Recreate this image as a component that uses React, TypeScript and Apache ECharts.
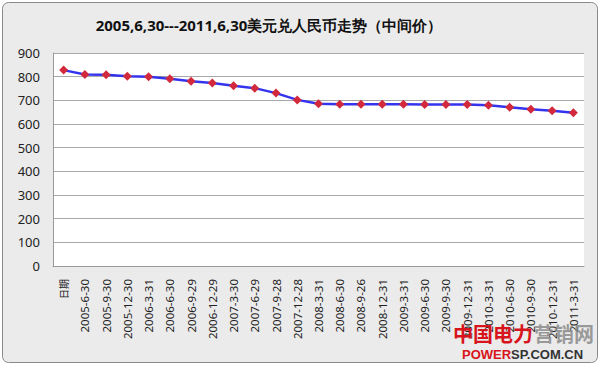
import React, { useEffect, useRef } from "react";
import * as echarts from "echarts";

const titleText = "2005,6,30---2011,6,30美元兑人民币走势（中间价）";
const categories = [
  "日期", "2005-6-30", "2005-9-30", "2005-12-30", "2006-3-31", "2006-6-30",
  "2006-9-29", "2006-12-29", "2007-3-30", "2007-6-29", "2007-9-28", "2007-12-28",
  "2008-3-31", "2008-6-30", "2008-9-26", "2008-12-31", "2009-3-31", "2009-6-30",
  "2009-9-30", "2009-12-31", "2010-3-31", "2010-6-30", "2010-9-30", "2010-12-31",
  "2011-3-31",
];
const rates = [
  827.65, 809.2, 807.65, 801.7, 799.56, 790.87, 780.87, 773.42, 761.55, 751.46,
  730.46, 701.9, 685.91, 683.1, 683.46, 683.2, 683.3, 682.9, 682.82, 682.6,
  679.1, 671.0, 662.27, 655.64, 647.16,
];
const yMin = 0;
const yMax = 900;
const yStep = 100;

export default function App() {
  const ref = useRef<HTMLDivElement>(null);
  useEffect(() => {
    if (!ref.current) return;
    const chart = echarts.init(ref.current, null, { renderer: "svg" });
    const font = "'Noto Sans', sans-serif";
    chart.setOption({
      animation: false,
      backgroundColor: "#ffffff",
      textStyle: { fontFamily: font },
      graphic: [
        {
          type: "rect",
          shape: { x: 2.5, y: 2.5, width: 595, height: 360, r: 6 },
          style: { fill: "#ebebeb", stroke: "#8a8a8a", lineWidth: 1 },
          z: -10,
        },
        {
          type: "text",
          x: 269,
          y: 25,
          style: {
            text: titleText,
            fill: "#111",
            font: `bold 15px ${font}`,
            textAlign: "center",
            textVerticalAlign: "middle",
          },
        },
        {
          type: "text",
          x: 453,
          y: 333,
          z: 100,
          style: {
            text: "中国电力",
            fill: "#d8141c",
            font: `bold 20px 'Noto Sans CJK SC', sans-serif`,
            textAlign: "left",
            textVerticalAlign: "middle",
          },
        },
        {
          type: "text",
          x: 534,
          y: 333,
          z: 100,
          style: {
            text: "营销网",
            fill: "#8a8a8a",
            font: `bold 20px 'Noto Sans CJK SC', sans-serif`,
            textAlign: "left",
            textVerticalAlign: "middle",
            opacity: 0.85,
          },
        },
        {
          type: "text",
          x: 462,
          y: 354,
          z: 100,
          style: {
            text: "{r|POWER}{g|SP.COM.CN}",
            rich: {
              r: { fill: "#d8141c", font: `bold 13px 'Liberation Sans', sans-serif` },
              g: { fill: "#333", font: `bold 13px 'Liberation Sans', sans-serif` },
            },
            textAlign: "left",
            textVerticalAlign: "middle",
          },
        },
      ],
      grid: {
        left: 53,
        right: 16,
        top: 53,
        bottom: 99,
        show: true,
        backgroundColor: "#ffffff",
        borderWidth: 0,
      },
      xAxis: {
        type: "category",
        data: categories,
        boundaryGap: true,
        axisLine: { show: true, lineStyle: { color: "#9a9a9a", width: 1 } },
        axisTick: { show: false },
        axisLabel: {
          rotate: 90,
          interval: 0,
          margin: 13,
          color: "#222",
          fontSize: 11.5,
          fontFamily: font,
          formatter: (v: string, i: number) => (i === 0 ? `{cj|${v}}` : v),
          rich: {
            cj: { fontSize: 10, color: "#222", fontFamily: "'Noto Sans CJK SC', sans-serif" },
          },
        },
      },
      yAxis: {
        type: "value",
        min: yMin,
        max: yMax,
        interval: yStep,
        axisLine: { show: true, lineStyle: { color: "#9a9a9a", width: 1 } },
        axisTick: { show: false },
        axisLabel: { color: "#222", fontSize: 13, margin: 13, fontFamily: font },
        splitLine: { show: true, lineStyle: { color: "#a8a8a8", width: 1 } },
      },
      series: [
        {
          type: "line",
          data: rates,
          symbol: "diamond",
          symbolSize: 9,
          itemStyle: { color: "#d22a3c" },
          lineStyle: { color: "#3434ee", width: 2.5 },
          z: 5,
        },
      ],
    });
    return () => chart.dispose();
  }, []);
  return (
    <div
      ref={ref}
      style={{ position: "fixed", left: 0, top: 0, width: 600, height: 365 }}
    />
  );
}
